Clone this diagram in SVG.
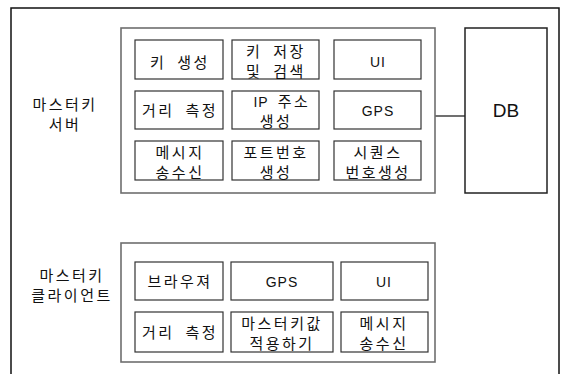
<svg xmlns="http://www.w3.org/2000/svg" width="562" height="374" viewBox="0 0 562 374">
<style>
.frame{fill:none;stroke:#111;stroke-width:1.5}
.grp{fill:#fff;stroke:#6e6e6e;stroke-width:1.6}
.box{fill:#fff;stroke:#333;stroke-width:1.2}
.db{fill:#fff;stroke:#222;stroke-width:1.5}
.conn{stroke:#222;stroke-width:1.3;fill:none}
.k{font-family:"Noto Sans CJK KR","Liberation Sans",sans-serif;font-size:15px;letter-spacing:2.5px;word-spacing:5px;fill:#111;text-anchor:middle}
.l{font-family:"Liberation Sans","Noto Sans CJK KR",sans-serif;font-size:14px;letter-spacing:1px;fill:#111;text-anchor:middle}
.big{font-family:"Liberation Sans",sans-serif;font-size:19px;fill:#111;text-anchor:middle}
</style>
<rect class="frame" x="11" y="8" width="548" height="380"/>
<g id="connectors">
<line class="conn" x1="435" y1="116" x2="465" y2="116"/>
</g>
<g id="server-label">
<text class="k" x="65" y="110">마스터키</text>
<text class="k" x="65" y="130">서버</text>
</g>
<g id="server">
<rect class="grp" x="121" y="28" width="314" height="165"/>
</g>
<g id="keygen"><rect class="box" x="135" y="40" width="88" height="39"/><text class="k" x="180" y="68">키 생성</text></g>
<g id="keystore"><rect class="box" x="232" y="40" width="87" height="39"/><text class="k" x="276" y="57">키 저장</text><text class="k" x="276" y="77">및 검색</text></g>
<g id="ui-s"><rect class="box" x="334" y="40" width="87" height="39"/><text class="l" x="378" y="67">UI</text></g>
<g id="dist-s"><rect class="box" x="135" y="91" width="88" height="38"/><text class="k" x="180" y="116">거리 측정</text></g>
<g id="ip"><rect class="box" x="232" y="91" width="87" height="38"/><text class="l" x="261" y="107">IP</text><text class="k" x="294" y="107">주소</text><text class="k" x="276" y="127">생성</text></g>
<g id="gps-s"><rect class="box" x="334" y="91" width="87" height="38"/><text class="l" x="378" y="116">GPS</text></g>
<g id="msg-s"><rect class="box" x="135" y="141" width="88" height="39"/><text class="k" x="180" y="158">메시지</text><text class="k" x="180" y="178">송수신</text></g>
<g id="port"><rect class="box" x="232" y="141" width="87" height="39"/><text class="k" x="276" y="158">포트번호</text><text class="k" x="276" y="178">생성</text></g>
<g id="seq"><rect class="box" x="334" y="141" width="87" height="39"/><text class="k" x="378" y="158">시퀀스</text><text class="k" x="378" y="178">번호생성</text></g>
<g id="db"><rect class="db" x="465" y="28" width="82" height="165"/><text class="big" x="506" y="117">DB</text></g>
<g id="client-label">
<text class="k" x="72" y="281">마스터키</text>
<text class="k" x="72" y="301">클라이언트</text>
</g>
<g id="client">
<rect class="grp" x="121" y="243" width="314" height="119"/>
</g>
<g id="browser"><rect class="box" x="135" y="262" width="88" height="38"/><text class="k" x="180" y="287">브라우져</text></g>
<g id="gps-c"><rect class="box" x="231" y="262" width="102" height="38"/><text class="l" x="282" y="287">GPS</text></g>
<g id="ui-c"><rect class="box" x="341" y="262" width="87" height="38"/><text class="l" x="384" y="287">UI</text></g>
<g id="dist-c"><rect class="box" x="135" y="312" width="88" height="40"/><text class="k" x="180" y="338">거리 측정</text></g>
<g id="apply"><rect class="box" x="231" y="312" width="102" height="40"/><text class="k" x="282" y="329">마스터키값</text><text class="k" x="282" y="349">적용하기</text></g>
<g id="msg-c"><rect class="box" x="341" y="312" width="87" height="40"/><text class="k" x="384" y="329">메시지</text><text class="k" x="384" y="349">송수신</text></g>
</svg>
